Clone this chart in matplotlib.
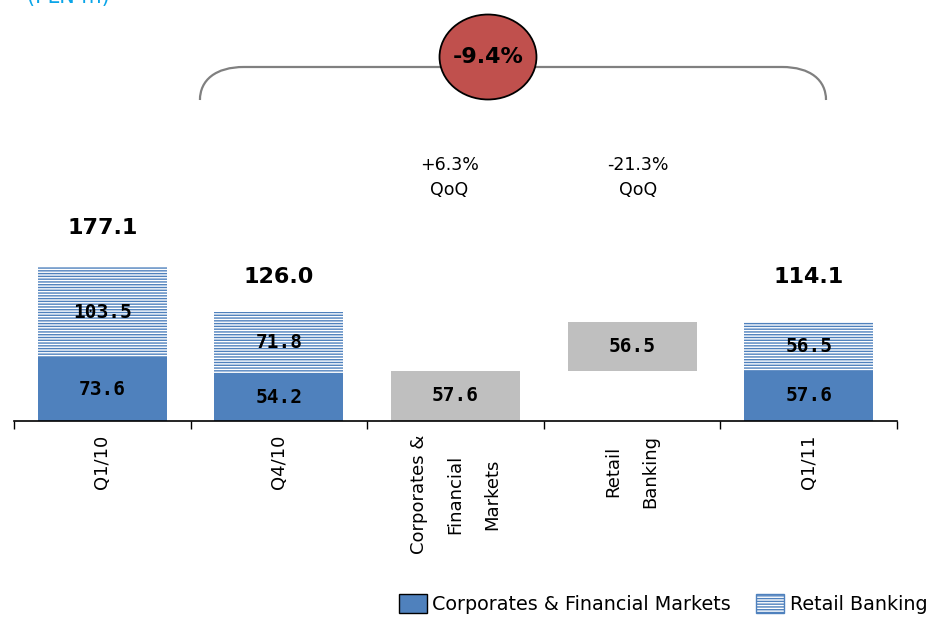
import matplotlib
matplotlib.use("Agg")
import matplotlib.pyplot as plt
from matplotlib.patches import Patch, Ellipse, PathPatch
from matplotlib.path import Path

# ---- data (PLN m) ----
categories = ["Q1/10", "Q4/10", "Corporates &\nFinancial\nMarkets", "Retail\nBanking", "Q1/11"]
cfm_values = [73.6, 54.2, None, None, 57.6]        # Corporates & Financial Markets
retail_values = [103.5, 71.8, None, None, 56.5]   # Retail Banking
bridge_values = [None, None, 57.6, 56.5, None]    # change contributions (waterfall steps)
totals = [177.1, 126.0, None, None, 114.1]
qoq_labels = [None, None, "+6.3%", "-21.3%", None]
total_change = "-9.4%"

BLUE = "#4F81BD"
GREY = "#BFBFBF"
RED = "#C0504D"

plt.rcParams["font.family"] = ["DejaVu Sans"]
plt.rcParams["hatch.linewidth"] = 1.0

fig = plt.figure(figsize=(9.36, 6.18), dpi=100)
ax = fig.add_axes([14 / 936, 197 / 618, 883 / 936, 421 / 618])

x = list(range(len(categories)))
width = 0.73

# stacked period bars
for i in x:
    if cfm_values[i] is not None:
        ax.bar(i, cfm_values[i], width, color=BLUE, linewidth=0, zorder=2)
        ax.bar(i, retail_values[i], width, bottom=cfm_values[i], facecolor="white",
               edgecolor=BLUE, hatch="------", linewidth=0, zorder=2)
        ax.text(i, cfm_values[i] / 2, f"{cfm_values[i]:.1f}", ha="center", va="center",
                family="DejaVu Sans Mono", weight="bold", fontsize=14, zorder=3)
        ax.text(i, cfm_values[i] + retail_values[i] / 2, f"{retail_values[i]:.1f}",
                ha="center", va="center", family="DejaVu Sans Mono", weight="bold",
                fontsize=14, zorder=3)

# waterfall steps
step_base = 0.0
for i in x:
    if bridge_values[i] is not None:
        ax.bar(i, bridge_values[i], width, bottom=step_base, color=GREY, linewidth=0, zorder=2)
        ax.text(i, step_base + bridge_values[i] / 2, f"{bridge_values[i]:.1f}", ha="center",
                va="center", family="DejaVu Sans Mono", weight="bold", fontsize=14, zorder=3)
        step_base += bridge_values[i]

# totals above bars
total_y = {0: 222.0, 1: 165.7, 4: 165.7}
for i in x:
    if totals[i] is not None:
        ax.text(i, total_y[i], f"{totals[i]:.1f}", ha="center", va="center",
                weight="bold", fontsize=16)

# quarter-on-quarter notes
for i in x:
    if qoq_labels[i] is not None:
        xo = i - 0.035 if i == 2 else i + 0.035
        ax.text(xo, 294.6, qoq_labels[i], ha="center", va="center", fontsize=12.5)
        ax.text(xo, 265.8, "QoQ", ha="center", va="center", fontsize=12.5)

# bracket spanning Q4/10 -> Q1/11 with the overall change bubble
xl, xr = 0.553, 4.098
yb, yt = 369.4, 407.4
dx, dy = 0.25, 38.0
verts = [(xl, yb), (xl, yb + dy * 0.6), (xl + dx * 0.35, yt), (xl + dx, yt),
         (xr - dx, yt),
         (xr - dx * 0.35, yt), (xr, yb + dy * 0.6), (xr, yb)]
codes = [Path.MOVETO, Path.CURVE4, Path.CURVE4, Path.CURVE4,
         Path.LINETO,
         Path.CURVE4, Path.CURVE4, Path.CURVE4]
ax.add_patch(PathPatch(Path(verts, codes), facecolor="none", edgecolor="#808080",
                       linewidth=1.6, zorder=1))
ax.add_patch(Ellipse((2.184, 418.9), 0.549, 97.8, facecolor=RED, edgecolor="black",
                     linewidth=1.3, zorder=4))
ax.text(2.184, 418.9, total_change, ha="center", va="center", weight="bold",
        fontsize=16, zorder=5)

# axes styling
ax.set_xlim(-0.5, len(categories) - 0.5)
ax.set_ylim(0, 484.5)
for side in ("left", "right", "top"):
    ax.spines[side].set_visible(False)
ax.spines["bottom"].set_linewidth(1.2)
ax.set_yticks([])
ax.set_xticks([i - 0.5 for i in range(len(categories) + 1)])
ax.set_xticklabels([])
ax.tick_params(axis="x", which="major", direction="out", length=6, width=1.0)
ax.set_xticks(x, minor=True)
ax.set_xticklabels(categories, minor=True, rotation=90, fontsize=13, linespacing=2.35,
                   ha="center", va="top", multialignment="center")
ax.tick_params(axis="x", which="minor", length=0, pad=10)

# unit caption
fig.text(27 / 936, 1 - 3 / 618, "(PLN m)", color="#0AA5E8", fontsize=15,
         ha="left", va="baseline")

handles = [Patch(facecolor=BLUE, edgecolor="black", linewidth=1.0,
                 label="Corporates & Financial Markets"),
           Patch(facecolor="white", edgecolor=BLUE, hatch="------", linewidth=1.0,
                 label="Retail Banking")]
fig.legend(handles=handles, loc="lower right", bbox_to_anchor=(1.003, -0.012), ncol=2,
           frameon=False, fontsize=13.8, handlelength=1.45, handleheight=1.2,
           handletextpad=0.3, columnspacing=1.3, borderaxespad=0.2)

fig.savefig("out.png", dpi=100)
